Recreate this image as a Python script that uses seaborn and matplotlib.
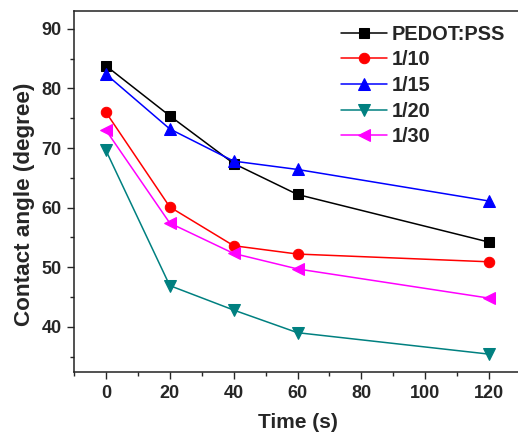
import matplotlib
matplotlib.use("Agg")
import matplotlib.pyplot as plt
import seaborn as sns
import pandas as pd
from matplotlib.ticker import MultipleLocator

time_s = [0, 20, 40, 60, 120]
pedot = [83.8, 75.4, 67.4, 62.2, 54.2]
r10 = [76.0, 60.1, 53.6, 52.2, 50.9]
r15 = [82.4, 73.2, 67.8, 66.4, 61.1]
r20 = [69.6, 46.9, 42.8, 39.0, 35.4]
r30 = [73.0, 57.4, 52.3, 49.7, 44.8]
series_names = ["PEDOT:PSS", "1/10", "1/15", "1/20", "1/30"]
series_values = [pedot, r10, r15, r20, r30]
colors = ["#000000", "#FF0000", "#0000FF", "#008080", "#FF00FF"]
markers = ["s", "o", "^", "v", "<"]
msizes = [6.5, 7.5, 8, 8, 8]

sns.set_style("ticks")
plt.rcParams['font.family'] = ['Liberation Sans', 'DejaVu Sans']
plt.rcParams['font.weight'] = 'bold'

fig = plt.figure(figsize=(5.18, 4.36), dpi=100)
ax = fig.add_axes([74/518, 1-372/436, (521-74)/518, (372-11)/436])

rows = []
for name, vals in zip(series_names, series_values):
    for t, v in zip(time_s, vals):
        rows.append({"Time": t, "Angle": v, "Series": name})
df = pd.DataFrame(rows)

for name, c, m, ms in zip(series_names, colors, markers, msizes):
    sub = df[df["Series"] == name]
    sns.lineplot(data=sub, x="Time", y="Angle", ax=ax, color=c, marker=m,
                 markersize=ms, markeredgecolor=c, linewidth=1.1, label=name)

ax.set_xlim(-10, 130)
ax.set_ylim(32.4, 93)
ax.xaxis.set_major_locator(MultipleLocator(20))
ax.xaxis.set_minor_locator(MultipleLocator(10))
ax.yaxis.set_major_locator(MultipleLocator(10))
ax.yaxis.set_minor_locator(MultipleLocator(5))
ax.set_yticks([40, 50, 60, 70, 80, 90])
ax.tick_params(which='major', direction='out', length=5, width=1, labelsize=13, pad=4)
ax.tick_params(which='minor', direction='out', length=3, width=1)
for lab in ax.get_xticklabels() + ax.get_yticklabels():
    lab.set_fontweight('bold')
for s in ax.spines.values():
    s.set_linewidth(1.1)
    s.set_color('#222222')

ax.set_xlabel("Time (s)", fontsize=15, fontweight='bold', labelpad=8)
ax.set_ylabel("Contact angle (degree)", fontsize=16.2, fontweight='bold')
ax.yaxis.set_label_coords(-0.087, 0.465)

leg = ax.legend(loc='upper left', bbox_to_anchor=(0.5615, 1.006), frameon=False,
                prop={'weight': 'bold', 'size': 14.4}, handlelength=2.3,
                labelspacing=0.33, handletextpad=0.25, borderaxespad=0.4)

fig.savefig("out.png", dpi=100)
